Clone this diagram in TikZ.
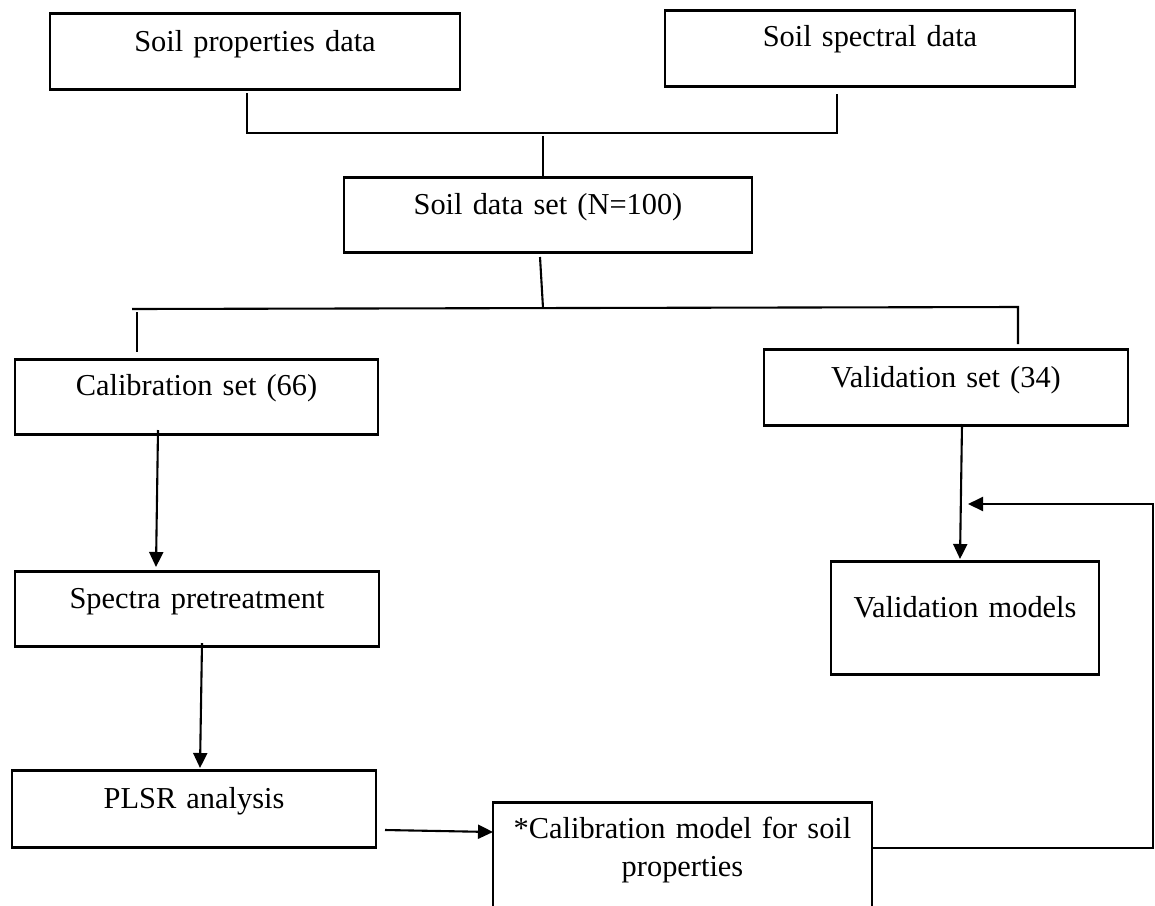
\documentclass[tikz,border=0pt]{standalone}
\usepackage{fontspec}
\setmainfont{Liberation Serif}
\usetikzlibrary{arrows.meta}
\begin{document}
\begin{tikzpicture}[x=0.5pt,y=-0.5pt,
  box/.style={draw, line width=1.25pt, inner sep=0pt, align=center, anchor=north, font=\fontsize{15.2}{19}\selectfont},
  conn/.style={line width=1.05pt},
  arr/.style={line width=1.05pt, -{Triangle[length=7.5pt,width=7pt]}}]
\clip (0,0) rectangle (1155,905);
\useasboundingbox (0,0) rectangle (1155,905);
% boxes
\node[box, text width=205pt, text height=19pt, text depth=19pt] (SP) at (255,12) {Soil properties data};
\node[box, text width=205pt, text height=18pt, text depth=20pt] (SS) at (870,9) {Soil spectral data};
\node[box, text width=204pt, text height=18.5pt, text depth=19pt] (DS) at (548,176) {Soil data set (N=100)};
\node[box, text width=181.5pt, text height=18pt, text depth=19.5pt] (CS) at (196.5,358) {Calibration set (66)};
\node[box, text width=182pt, text height=19pt, text depth=19pt] (VS) at (946,348) {Validation set (34)};
\node[box, text width=182pt, text height=18.5pt, text depth=19pt] (SPT) at (197,570) {Spectra pretreatment};
\node[box, text width=182pt, text height=19pt, text depth=19.5pt] (PLSR) at (194,769) {PLSR analysis};
\node[box, text width=134pt, text height=28pt, text depth=28.5pt] (VM) at (965,560) {Validation models};
\node[box, text width=189.5pt, text height=18pt, text depth=40pt] (CM) at (682.5,801) {*Calibration model for soil\\properties};
% top bracket
\coordinate (b1) at (247,93);
\coordinate (b2) at (247,133);
\coordinate (b3) at (837,133);
\coordinate (b4) at (837,94);
\draw[conn] (b1) -- (b2) -- (b3) -- (b4);
\coordinate (d1) at (543,136);
\draw[conn] (d1) -- (d1 |- DS.north);
% split
\coordinate (s0) at (540,257);
\coordinate (s1) at (543,308);
\coordinate (sl) at (132,309);
\coordinate (sr) at (1018,307);
\coordinate (l1) at (137,312);
\coordinate (l2) at (137,352);
\coordinate (r2) at (1018,344);
\draw[conn] (s0) -- (s1);
\draw[conn] (sl) -- (sr) -- (r2);
\draw[conn] (l1) -- (l2);
% arrows
\coordinate (a1) at (158,430);
\coordinate (a2) at (156,567);
\draw[arr] (a1) -- (a2);
\coordinate (a3) at (202,643);
\coordinate (a4) at (200,768);
\draw[arr] (a3) -- (a4);
\coordinate (a5) at (385,830);
\coordinate (a6) at (493,832);
\draw[arr] (a5) -- (a6);
\coordinate (a7) at (962,424);
\coordinate (a8) at (960,559);
\draw[arr] (a7) -- (a8);
% feedback
\coordinate (f0) at (872,848);
\coordinate (f1) at (1153,848);
\coordinate (f2) at (1153,504);
\coordinate (f3) at (968,504);
\draw[arr] (f0) -- (f1) -- (f2) -- (f3);
\end{tikzpicture}
\end{document}
